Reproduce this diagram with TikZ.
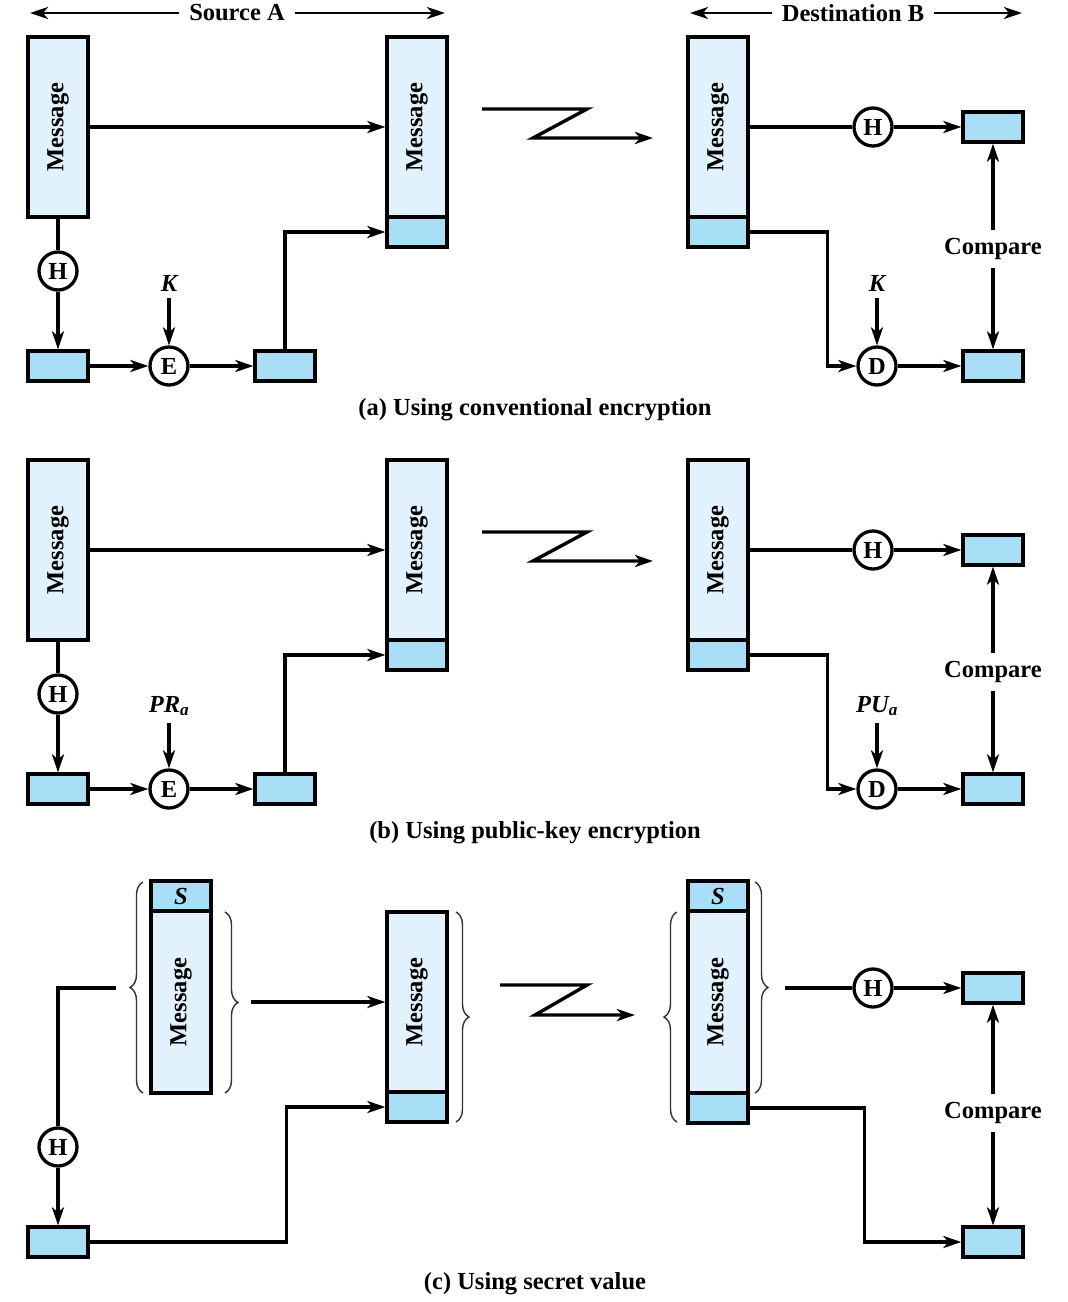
\documentclass[tikz,border=0pt]{standalone}
\usepackage{fontspec}
\setmainfont{Liberation Serif}
\usetikzlibrary{arrows.meta,decorations.pathreplacing,calc}
\definecolor{msgfill}{RGB}{225,242,252}
\definecolor{hashfill}{RGB}{168,222,246}
\tikzset{
 >={Stealth[length=18pt,width=12pt,inset=5pt]},
 every node/.style={font=\fontsize{24.5}{28}\selectfont\bfseries},
 msgbox/.style={draw, line width=3.3pt, fill=msgfill, minimum width=60pt, minimum height=180pt, inner sep=0pt},
 hashbox/.style={draw, line width=3.3pt, fill=hashfill, minimum width=60pt, minimum height=30pt, inner sep=0pt},
 opnode/.style={draw, circle, line width=3.3pt, fill=white, minimum size=38pt, inner sep=0pt},
 msgtxt/.style={rotate=90, inner sep=0pt},
 keylbl/.style={inner sep=7pt, font=\fontsize{24.5}{28}\selectfont\bfseries\itshape},
 cmplbl/.style={inner sep=8pt},
 conn/.style={line width=3.4pt},
 hdr/.style={line width=2.9pt},
 hdrlbl/.style={fill=white, inner sep=10pt},
 brc/.style={decorate, decoration={brace, amplitude=13pt}, line width=1.4pt, draw=black!80},
}
\newcommand\convpanel[5]{%
\begin{scope}[shift={(0,#2)}]
 % source side
 \node[msgbox] (sm#1) at (58,127) {};
 \node[msgtxt] (smt#1) at (sm#1) {Message};
 \node[msgbox] (mm#1) at (417,127) {};
 \node[msgtxt] (mmt#1) at (mm#1) {Message};
 \node[hashbox] (mh#1) at (417,232) {};
 \node[opnode] (hs#1) at (58,271) {H};
 \node[hashbox] (hb#1) at (58,366) {};
 \node[opnode] (en#1) at (169,366) {E};
 \node[hashbox] (eb#1) at (285,366) {};
 \node[keylbl] (ks#1) at (169,283) {#3};
 \draw[conn] (sm#1) -- (hs#1);
 \draw[conn,->] (hs#1) -- (hb#1);
 \draw[conn,->] (hb#1) -- (en#1);
 \draw[conn,->] (en#1) -- (eb#1);
 \draw[conn,->] (ks#1.south) -- (en#1);
 \draw[conn,->] (eb#1.north) |- (mh#1.west);
 \draw[conn,->] (sm#1.east) -- (mm#1.west);
 % transmission
 \coordinate (z#1) at (482,109);
 \draw[conn,->] (z#1) -- ++(105,0) -- ++(-54,29) -- ++(120,0);
 % destination side
 \node[msgbox] (dm#1) at (718,127) {};
 \node[msgtxt] (dmt#1) at (dm#1) {Message};
 \node[hashbox] (dh#1) at (718,232) {};
 \node[opnode] (hd#1) at (873,127) {H};
 \node[hashbox] (ca#1) at (993,127) {};
 \node[opnode] (dn#1) at (877,366) {D};
 \node[hashbox] (cb#1) at (993,366) {};
 \node[keylbl] (kd#1) at (877,283) {#4};
 \node[cmplbl] (cmp#1) at (993,249) {Compare};
 \draw[conn] (dm#1.east) -- (hd#1);
 \draw[conn,->] (hd#1) -- (ca#1);
 \draw[conn,->] (dh#1.east) -- ++(78,0) |- (dn#1.west);
 \draw[conn,->] (kd#1.south) -- (dn#1);
 \draw[conn,->] (dn#1) -- (cb#1);
 \draw[conn,->] (cmp#1) -- (ca#1);
 \draw[conn,->] (cmp#1) -- (cb#1);
 \node (cap#1) at (535,410) {#5};
\end{scope}}
\begin{document}
\begin{tikzpicture}[x=1pt,y=-1pt]
\useasboundingbox (0,0) rectangle (1068,1302);
% headers
\node[hdrlbl] (srcA) at (237,13) {Source A};
\coordinate (srcL) at (30,13);
\coordinate (srcR) at (445,13);
\draw[hdr,->] (srcA) -- (srcL);
\draw[hdr,->] (srcA) -- (srcR);
\node[hdrlbl] (dstB) at (853,13) {Destination B};
\coordinate (dstL) at (690,13);
\coordinate (dstR) at (1022,13);
\draw[hdr,->] (dstB) -- (dstL);
\draw[hdr,->] (dstB) -- (dstR);

\convpanel{a}{0}{K}{K}{(a) Using conventional encryption}
\convpanel{b}{423}{PR\textsubscript{a}}{PU\textsubscript{a}}{(b) Using public-key encryption}

% panel (c)
\node[hashbox] (ssc) at (181,896) {\itshape S};
\node[msgbox, minimum height=182pt] (smc) at (181,1002) {};
\node[msgtxt] (smtc) at (smc) {Message};
\node[msgbox] (mmc) at (417,1002) {};
\node[msgtxt] (mmtc) at (mmc) {Message};
\node[hashbox] (mhc) at (417,1107) {};
\node[opnode] (hsc) at (58,1147) {H};
\node[hashbox] (hbc) at (58,1242) {};
\coordinate (clc) at (116,988);
\coordinate (cac) at (251,1002);
\draw[conn] (clc) -| (hsc);
\draw[conn,->] (hsc) -- (hbc);
\draw[conn,->] (hbc.east) -- ++(197,0) |- (mhc.west);
\draw[conn,->] (cac) -- (mmc.west);
% braces source
\coordinate (b1a) at (143,1093); \coordinate (b1b) at (143,882);
\draw[brc] (b1a) -- (b1b);
\coordinate (b2a) at (225,912); \coordinate (b2b) at (225,1093);
\draw[brc] (b2a) -- (b2b);
\coordinate (b3a) at (456,912); \coordinate (b3b) at (456,1122);
\draw[brc] (b3a) -- (b3b);
% transmission
\coordinate (zc) at (500,985);
\draw[conn,->] (zc) -- ++(87,0) -- ++(-52,30) -- ++(100,0);
% destination
\node[hashbox] (dsc) at (718,896) {\itshape S};
\node[msgbox, minimum height=182pt] (dmc) at (718,1002) {};
\node[msgtxt] (dmtc) at (dmc) {Message};
\node[hashbox] (dhc) at (718,1108) {};
\coordinate (b4a) at (677,1122); \coordinate (b4b) at (677,912);
\draw[brc] (b4a) -- (b4b);
\coordinate (b5a) at (755,882); \coordinate (b5b) at (755,1093);
\draw[brc] (b5a) -- (b5b);
\node[opnode] (hdc) at (873,988) {H};
\node[hashbox] (cac2) at (993,988) {};
\node[hashbox] (cbc) at (993,1242) {};
\node[cmplbl] (cmpc) at (993,1113) {Compare};
\coordinate (cdc) at (785,988);
\draw[conn] (cdc) -- (hdc);
\draw[conn,->] (hdc) -- (cac2);
\draw[conn,->] (dhc.east) -- ++(115,0) |- (cbc.west);
\draw[conn,->] (cmpc) -- (cac2);
\draw[conn,->] (cmpc) -- (cbc);
\node (capc) at (535,1284) {(c) Using secret value};
\end{tikzpicture}
\end{document}
